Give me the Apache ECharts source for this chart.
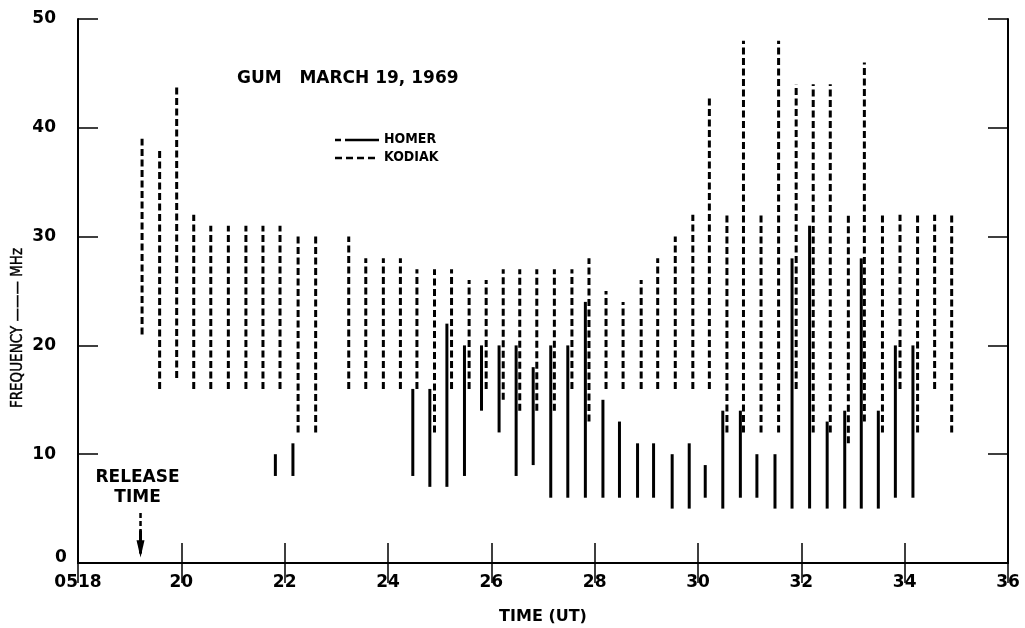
<!DOCTYPE html>
<html>
<head>
<meta charset="utf-8">
<script src="https://cdn.jsdelivr.net/npm/echarts@6/dist/echarts.min.js"></script>
<style>
html,body{margin:0;padding:0;background:#fff;}
#chart{width:1025px;height:628px;}
</style>
</head>
<body>
<div id="chart"></div>
<script>
// ---- data (minutes after 05:00 UT, frequency in MHz) ----
const kodiakTime = [19.24,19.58,19.91,20.24,20.57,20.91,21.25,21.58,21.91,22.26,22.6,
  23.24,23.57,23.91,24.24,24.56,24.9,25.23,25.57,25.9,26.23,26.55,26.88,27.22,27.56,27.89,
  28.22,28.55,28.9,29.22,29.56,29.9,30.22,30.56,30.88,31.22,31.56,31.9,32.23,32.56,32.91,
  33.22,33.57,33.91,34.25,34.58,34.91];
const kodiakLow  = [21,16,17,16,16,16,16,16,16,12,12,
  16,16,16,16,16,12,16,16,16,15,14,14,14,16,13,
  16,16,16,16,16,16,16,12,12,12,12,16,12,12,11,
  13,12,16,12,16,12];
const kodiakHigh = [39,38,44,32,31,31,31,31,31,30,30,
  30,28,28,28,27,27,27,26,26,27,27,27,27,27,28,
  25,24,26,28,30,32,43,32,48,32,48,44,44,44,32,
  46,32,32,32,32,32];

const homerTime = [21.82,22.16,24.48,24.81,25.14,25.48,25.81,26.15,26.48,26.81,27.15,27.48,
  27.82,28.16,28.48,28.83,29.14,29.5,29.83,30.14,30.48,30.82,31.14,31.49,31.82,32.16,
  32.5,32.84,33.16,33.49,33.82,34.16];
const homerLow  = [8,8,8,7,7,8,14,12,8,9,6,6,
  6,6,6,6,6,5,5,6,5,6,6,5,5,5,
  5,5,5,5,6,6];
const homerHigh = [10,11,16,16,22,20,20,20,20,18,20,20,
  24,15,13,11,11,10,11,9,14,14,10,10,28,31,
  13,14,28,14,20,20];

const xTickValues = [18,20,22,24,26,28,30,32,34,36];
const xTickLabels = ['0518','20','22','24','26','28','30','32','34','36'];
const releaseTime = 19.21;

const titleText = 'GUM   MARCH 19, 1969';
const homerName = 'HOMER';
const kodiakName = 'KODIAK';

// ---- chart ----
const FONT = '"DejaVu Sans", sans-serif';
const FONTC = '"DejaVu Sans Condensed", "DejaVu Sans", sans-serif';
const chart = echarts.init(document.getElementById('chart'), null, {renderer: 'canvas'});

const kodiakData = kodiakTime.map((t, i) => [t, kodiakLow[i], kodiakHigh[i]]);
const homerData = homerTime.map((t, i) => [t, homerLow[i], homerHigh[i]]);

function segRenderer(dash, width) {
  return function (params, api) {
    const p1 = api.coord([api.value(0), api.value(1)]);
    const p2 = api.coord([api.value(0), api.value(2)]);
    return {
      type: 'line',
      shape: {x1: p1[0], y1: p1[1], x2: p2[0], y2: p2[1]},
      style: {stroke: '#000', lineWidth: width, lineDash: dash, lineCap: 'butt'}
    };
  };
}

const axisCommonX = {
  type: 'value', min: 18, max: 36, interval: 2,
  axisLine: {show: true, lineStyle: {color: '#000', width: 2}},
  axisTick: {show: true, inside: true, length: 20, lineStyle: {color: '#000', width: 1.5}},
  splitLine: {show: false}
};
const axisCommonY = {
  type: 'value', min: 0, max: 50, interval: 10,
  axisLine: {show: true, lineStyle: {color: '#000', width: 2}},
  axisTick: {show: true, inside: true, length: 20, lineStyle: {color: '#000', width: 1.5}},
  splitLine: {show: false}
};

const option = {
  animation: false,
  backgroundColor: '#fff',
  grid: {left: 78, right: 17, top: 19, bottom: 65, containLabel: false, outerBoundsMode: 'none'},
  xAxis: [
    Object.assign({}, axisCommonX, {
      position: 'bottom',
      name: 'TIME (UT)', nameLocation: 'middle', nameGap: 46,
      nameTextStyle: {fontFamily: FONT, fontSize: 16, fontWeight: 'bold', color: '#000'},
      axisLabel: {
        margin: 11, fontFamily: FONT, fontSize: 17, fontWeight: 'bold', color: '#000',
        formatter: v => { const k = xTickValues.indexOf(v); return k >= 0 ? xTickLabels[k] : ''; }
      }
    }),
    Object.assign({}, axisCommonX, {position: 'top', axisLabel: {show: false}})
  ],
  yAxis: [
    Object.assign({}, axisCommonY, {
      position: 'left',
      axisLabel: {margin: 22, fontFamily: FONT, fontSize: 17, fontWeight: 'bold', color: '#000', showMinLabel: false}
    }),
    Object.assign({}, axisCommonY, {position: 'right', axisLabel: {show: false}})
  ],
  graphic: [
    {type: 'text', left: 237, top: 70,
      style: {text: titleText, fontFamily: FONT, fontSize: 17, fontWeight: 'bold', fill: '#000'}},
    {type: 'line', shape: {x1: 335, y1: 140, x2: 341, y2: 140}, style: {stroke: '#000', lineWidth: 2.5}},
    {type: 'line', shape: {x1: 345, y1: 140, x2: 379, y2: 140}, style: {stroke: '#000', lineWidth: 2.5}},
    {type: 'text', left: 384, top: 132,
      style: {text: homerName, fontFamily: FONTC, fontSize: 14, fontWeight: 'bold', fill: '#000'}},
    {type: 'line', shape: {x1: 335, y1: 158, x2: 379, y2: 158}, style: {stroke: '#000', lineWidth: 2.5, lineDash: [7, 4]}},
    {type: 'text', left: 384, top: 150,
      style: {text: kodiakName, fontFamily: FONTC, fontSize: 14, fontWeight: 'bold', fill: '#000'}},
    {type: 'text', x: 18, y: 328, rotation: Math.PI / 2,
      style: {text: 'FREQUENCY ——— MHz', fontFamily: FONTC, fontSize: 15, fontWeight: 'normal', fill: '#000',
        align: 'center', verticalAlign: 'middle', stroke: '#000', lineWidth: 0.4}},
    {type: 'text', x: 61, y: 558,
      style: {text: '0', fontFamily: FONT, fontSize: 17, fontWeight: 'bold', fill: '#000', align: 'center', verticalAlign: 'middle'}}
  ],
  series: [
    {
      name: kodiakName, type: 'custom', xAxisIndex: 0, yAxisIndex: 0,
      data: kodiakData, encode: {x: 0, y: [1, 2]},
      renderItem: segRenderer([7, 3.5], 3), silent: true
    },
    {
      name: homerName, type: 'custom', xAxisIndex: 0, yAxisIndex: 0,
      data: homerData, encode: {x: 0, y: [1, 2]},
      renderItem: segRenderer(null, 3), silent: true
    },
    {
      name: 'release', type: 'custom', xAxisIndex: 0, yAxisIndex: 0,
      data: [[releaseTime, 0.5, 4.6]], encode: {x: 0, y: [1, 2]}, silent: true,
      renderItem: function (params, api) {
        const t = api.value(0);
        const top = api.coord([t, api.value(2)]);
        const mid = api.coord([t, 1.9]);
        const tip = api.coord([t, api.value(1)]);
        const lab = api.coord([t, 5.1]);
        return {
          type: 'group',
          children: [
            {type: 'line', shape: {x1: top[0], y1: top[1], x2: mid[0], y2: mid[1]},
              style: {stroke: '#000', lineWidth: 2.5, lineDash: [5, 3]}},
            {type: 'line', shape: {x1: mid[0], y1: mid[1] - 12, x2: mid[0], y2: tip[1] - 4},
              style: {stroke: '#000', lineWidth: 3}},
            {type: 'polygon', shape: {points: [[tip[0] - 4, mid[1] - 2], [tip[0] + 4, mid[1] - 2], [tip[0], tip[1]]]},
              style: {fill: '#000'}},
            {type: 'text', x: lab[0] - 3, y: lab[1],
              style: {text: 'RELEASE\nTIME', fontFamily: FONT, fontSize: 17, fontWeight: 'bold', lineHeight: 20, fill: '#000',
                align: 'center', verticalAlign: 'bottom'}}
          ]
        };
      }
    }
  ]
};
chart.setOption(option);
</script>
</body>
</html>
